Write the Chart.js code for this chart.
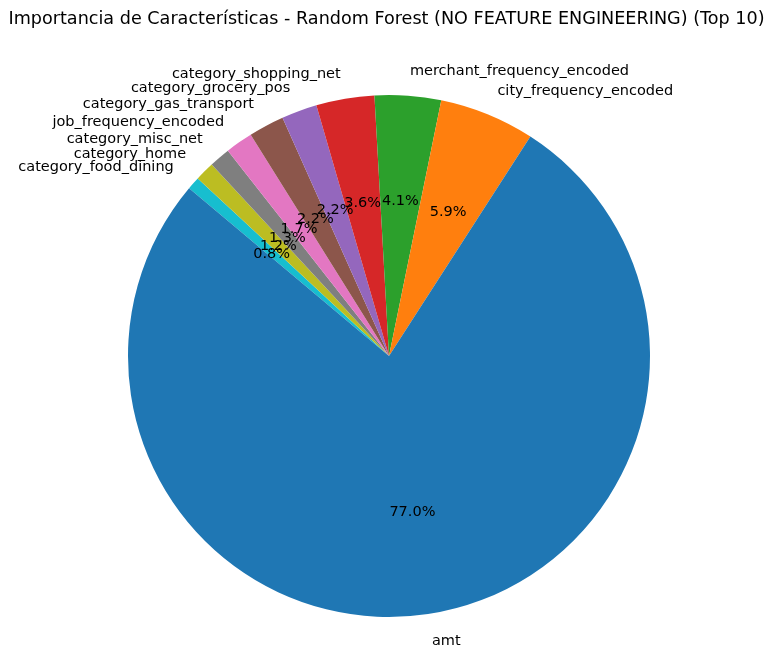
<!DOCTYPE html>
<html>
<head>
<meta charset="utf-8">
<script src="https://cdn.jsdelivr.net/npm/chart.js@4.4.1/dist/chart.umd.min.js"></script>
<style>
  html, body { margin: 0; padding: 0; background: #fff; }
  #wrap { width: 769px; height: 647px; }
</style>
</head>
<body>
<div id="wrap"><canvas id="pie" width="769" height="647"></canvas></div>
<script>
var chartTitle = "Importancia de Características - Random Forest (NO FEATURE ENGINEERING) (Top 10)";

// features in the order matplotlib drew them (counter-clockwise from 140deg)
var features = [
  "amt",
  "city_frequency_encoded",
  "merchant_frequency_encoded",
  "category_shopping_net",
  "category_grocery_pos",
  "category_gas_transport",
  "job_frequency_encoded",
  "category_misc_net",
  "category_home",
  "category_food_dining",
];
var importance = [77.0, 5.9, 4.1, 3.6, 2.2, 2.2, 1.7, 1.3, 1.2, 0.8];
var colors = [
  "#1f77b4", "#ff7f0e", "#2ca02c", "#d62728", "#9467bd",
  "#8c564b", "#e377c2", "#7f7f7f", "#bcbd22", "#17becf",
];

// chart.js goes clockwise, so flip the order to get matplotlib's ccw layout
var labelsCw = features.slice().reverse();
var valuesCw = importance.slice().reverse();
var colorsCw = colors.slice().reverse();

var FONT = "DejaVu Sans";

// draws the title, outside labels and the percentages
var pieText = {
  id: "pieText",
  afterDraw: function (chart) {
    const ctx = chart.ctx;
    const meta = chart.getDatasetMeta(0);
    const total = valuesCw.reduce((a, b) => a + b, 0);
    ctx.save();
    ctx.fillStyle = "#000";

    ctx.font = "17.6px '" + FONT + "'";
    ctx.textAlign = "center";
    ctx.textBaseline = "middle";
    ctx.fillText(chartTitle, 386.5, 19);

    ctx.font = "14.5px '" + FONT + "'";
    const dy = 1.5; // matplotlib centers a bit lower than canvas "middle"
    meta.data.forEach(function (arc, i) {
      const p = arc.getProps(["x", "y", "startAngle", "endAngle", "outerRadius"], true);
      const mid = (p.startAngle + p.endAngle) / 2;
      const c = Math.cos(mid), s = Math.sin(mid);

      // label at 1.1 r
      ctx.textAlign = c > 0 ? "left" : "right";
      ctx.textBaseline = "middle";
      ctx.fillText(labelsCw[i], p.x + 1.1 * p.outerRadius * c, p.y + 1.1 * p.outerRadius * s + dy);

      // percent at 0.6 r
      ctx.textAlign = "center";
      const pct = (valuesCw[i] / total * 100).toFixed(1) + "%";
      ctx.fillText(pct, p.x + 0.6 * p.outerRadius * c, p.y + 0.6 * p.outerRadius * s + dy);
    });
    ctx.restore();
  },
};

new Chart(document.getElementById("pie"), {
  type: "pie",
  data: {
    labels: labelsCw,
    datasets: [{
      data: valuesCw,
      backgroundColor: colorsCw,
      borderWidth: 0,
    }],
  },
  options: {
    responsive: false,
    animation: false,
    rotation: -50,
    layout: { padding: { left: 128, right: 119, top: 95, bottom: 30 } },
    plugins: {
      legend: { display: false },
      title: { display: false },
      tooltip: { enabled: false },
    },
  },
  plugins: [pieText],
});
</script>
</body>
</html>
